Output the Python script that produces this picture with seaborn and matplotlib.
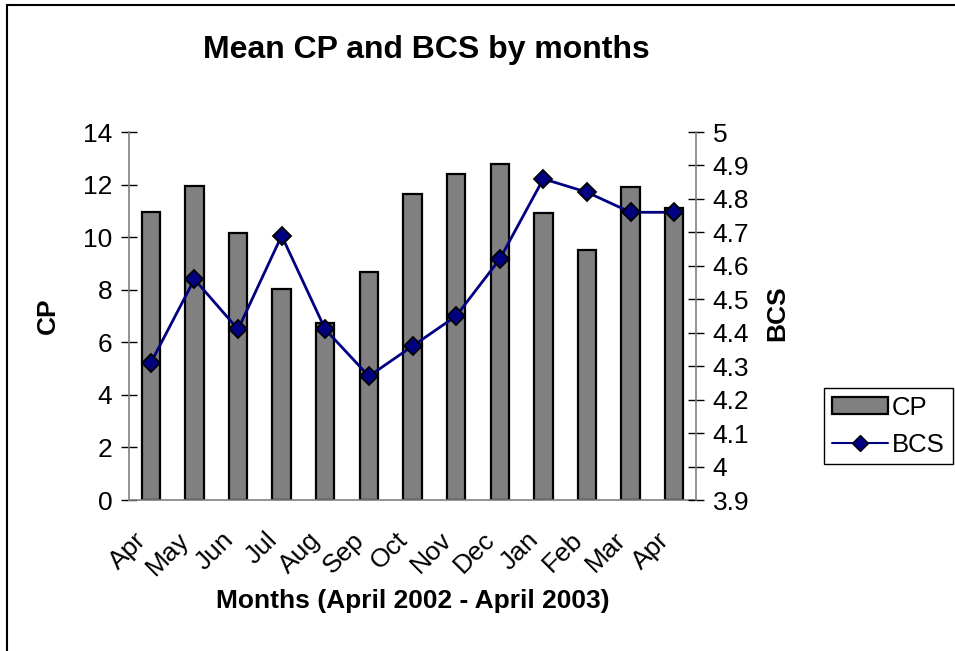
import pandas as pd
import matplotlib
matplotlib.use('Agg')
import matplotlib.pyplot as plt
import seaborn as sns
from matplotlib.patches import Patch, Rectangle
from matplotlib.lines import Line2D

# data
months = ['Apr', 'May', 'Jun', 'Jul', 'Aug', 'Sep', 'Oct', 'Nov', 'Dec', 'Jan', 'Feb', 'Mar', 'Apr']
month_ids = ['Apr 02', 'May 02', 'Jun 02', 'Jul 02', 'Aug 02', 'Sep 02', 'Oct 02', 'Nov 02',
             'Dec 02', 'Jan 03', 'Feb 03', 'Mar 03', 'Apr 03']
cp = [10.95, 11.95, 10.17, 8.02, 6.75, 8.68, 11.63, 12.39, 12.77, 10.9, 9.5, 11.91, 11.09]
bcs = [4.31, 4.56, 4.41, 4.69, 4.41, 4.27, 4.36, 4.45, 4.62, 4.86, 4.82, 4.76, 4.76]
cp_ticks = [0, 2, 4, 6, 8, 10, 12, 14]
bcs_ticks = [3.9, 4.0, 4.1, 4.2, 4.3, 4.4, 4.5, 4.6, 4.7, 4.8, 4.9, 5.0]
bcs_labels = ['3.9', '4', '4.1', '4.2', '4.3', '4.4', '4.5', '4.6', '4.7', '4.8', '4.9', '5']

df = pd.DataFrame({'month': month_ids, 'CP': cp, 'BCS': bcs})

sns.set_style('white')
plt.rcParams['font.family'] = ['Liberation Sans', 'DejaVu Sans']
plt.rcParams['text.color'] = 'black'
plt.rcParams['xtick.color'] = 'black'
plt.rcParams['ytick.color'] = 'black'

FS = 19

fig = plt.figure(figsize=(9.55, 6.51), dpi=100)
ax = fig.add_axes([129 / 955, 1 - 500 / 651, (696 - 129) / 955, (500 - 132) / 651])

# bars for CP
sns.barplot(data=df, x='month', y='CP', order=month_ids, color='#808080',
            edgecolor='black', linewidth=1.6, width=0.42, saturation=1, ax=ax)

# line for BCS on the secondary axis
ax2 = ax.twinx()
sns.lineplot(data=df, x='month', y='BCS', color='#000080', linewidth=2,
             marker='D', markersize=9, markerfacecolor='#000080',
             markeredgecolor='black', markeredgewidth=1.3, ax=ax2)

ax.set_xlim(-0.5, 12.5)
ax.set_ylim(0, 14)
ax2.set_ylim(3.9, 5.0)

# excel-like ticks: boundaries as major ticks, labels at centres
n = len(months)
ax.set_xticks([i - 0.5 for i in range(n + 1)])
ax.set_xticklabels([])
ax.set_xticks(range(n), minor=True)
ax.set_xticklabels(months, minor=True, rotation=45, ha='right', fontsize=FS)
ax.tick_params(axis='x', which='minor', length=0, pad=20)
ax.tick_params(axis='x', which='major', direction='inout', length=12, width=1)

ax.set_yticks(cp_ticks)
ax.set_yticklabels([str(t) for t in cp_ticks], fontsize=FS)
ax.tick_params(axis='y', direction='inout', length=12, width=1, pad=6)

ax2.set_yticks(bcs_ticks)
ax2.set_yticklabels(bcs_labels, fontsize=FS)
ax2.tick_params(axis='y', direction='inout', length=12, width=1, pad=6)

for a in (ax, ax2):
    a.spines['top'].set_visible(False)
    for s in ('left', 'right', 'bottom'):
        a.spines[s].set_color('#808080')
        a.spines[s].set_linewidth(1.2)
ax.spines['right'].set_visible(False)
ax2.spines['left'].set_visible(False)
ax2.spines['bottom'].set_visible(False)

ax.set_xlabel('')
ax.set_ylabel('')
ax2.set_xlabel('')
ax2.set_ylabel('')

fig.text(48 / 955, 1 - 316 / 651, 'CP', rotation=90, fontsize=FS, fontweight='bold',
         ha='center', va='center')
fig.text(777 / 955, 1 - 313 / 651, 'BCS', rotation=90, fontsize=FS, fontweight='bold',
         ha='center', va='center')
fig.text(413 / 955, 1 - 601 / 651, 'Months (April 2002 - April 2003)', fontsize=FS,
         fontweight='bold', ha='center', va='center')
fig.text(426 / 955, 1 - 50 / 651, 'Mean CP and BCS by months', fontsize=23,
         fontweight='bold', ha='center', va='center')

handles = [Patch(facecolor='#808080', edgecolor='black', linewidth=1.6),
           Line2D([], [], color='#000080', linewidth=1.5, marker='D', markersize=8,
                  markerfacecolor='#000080', markeredgecolor='black')]
leg = fig.legend(handles, ['CP', 'BCS'], loc='upper left',
                 bbox_to_anchor=(824 / 955, 1 - 388 / 651), fontsize=18.5,
                 frameon=True, fancybox=False, framealpha=1, borderpad=0.3,
                 handlelength=2.2, handleheight=0.6, handletextpad=0.15,
                 labelspacing=0.5, borderaxespad=0)
leg.get_frame().set_edgecolor('black')
leg.get_frame().set_linewidth(1)

# chart-area border (top and left visible in the reference)
fig.add_artist(Rectangle((7 / 955, -0.1), 1.2, 1 - 5 / 651 + 0.1, transform=fig.transFigure,
                         fill=False, edgecolor='black', linewidth=1.5))

fig.savefig('out.png', dpi=100)
